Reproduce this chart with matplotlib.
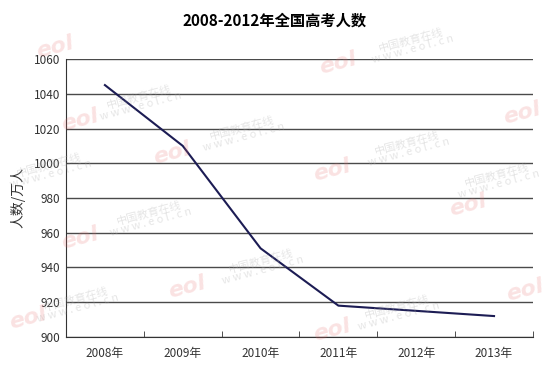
import matplotlib.pyplot as plt

plt.rcParams['font.family'] = ['Noto Sans CJK SC', 'DejaVu Sans']

years = ['2008年', '2009年', '2010年', '2011年', '2012年', '2013年']
counts = [1045, 1010, 951, 918, 915, 912]
yticks = [900, 920, 940, 960, 980, 1000, 1020, 1040, 1060]

# watermark spots (pixel centres): logo and site text
logo_xy = [(55, 47), (80, 120), (172, 153), (338, 63), (522, 113), (332, 170),
           (468, 205), (80, 238), (187, 287), (28, 318), (332, 330), (525, 290)]
mark_xy = [(140, 102), (243, 133), (412, 45), (408, 148), (150, 218),
           (262, 266), (77, 304), (398, 312), (50, 170), (498, 180)]

fig = plt.figure(figsize=(5.5, 3.69), dpi=100)
W, H = 550, 369

for px, py in logo_xy:
    fig.text(px / W, 1 - py / H, 'eol', ha='center', va='center', fontsize=16,
             fontweight='bold', fontstyle='italic', color='#e87070', alpha=0.2,
             rotation=15, family='DejaVu Sans', zorder=0)
for px, py in mark_xy:
    fig.text(px / W, 1 - py / H, '中国教育在线\nw w w . e o l . c n', ha='center',
             va='center', fontsize=8, color='#aaaaaa', alpha=0.3, rotation=15,
             linespacing=0.9, zorder=0)

ax = fig.add_axes([0.12, 0.087, 0.849, 0.753])
ax.patch.set_alpha(0)

x = list(range(len(years)))
ax.plot(x, counts, color='#1c1c54', linewidth=1.5)

ax.set_xlim(-0.5, len(years) - 0.5)
ax.set_ylim(900, 1060)
ax.set_yticks(yticks)
ax.set_yticklabels([str(v) for v in yticks], fontsize=8.5, color='#333333')
ax.set_xticks(x)
ax.set_xticklabels(years, fontsize=8.5, color='#333333')
ax.tick_params(axis='x', length=0, pad=7)
ax.tick_params(axis='y', length=0, pad=4)
# boundary ticks between categories
ax.set_xticks([i + 0.5 for i in range(len(years))], minor=True)
ax.tick_params(axis='x', which='minor', length=4, direction='in', color='#333333')

ax.grid(axis='y', color='#4a4a4a', linewidth=1.0)
ax.set_axisbelow(True)
for s in ['top', 'right']:
    ax.spines[s].set_visible(False)
ax.spines['left'].set_color('#333333')
ax.spines['bottom'].set_color('#333333')

ax.set_ylabel('人数/万人', fontsize=10, color='#333333', labelpad=6)
fig.text(0.5, 0.945, '2008-2012年全国高考人数', ha='center', va='center',
         fontsize=11, fontweight='bold')

fig.savefig('out.png', dpi=100)
